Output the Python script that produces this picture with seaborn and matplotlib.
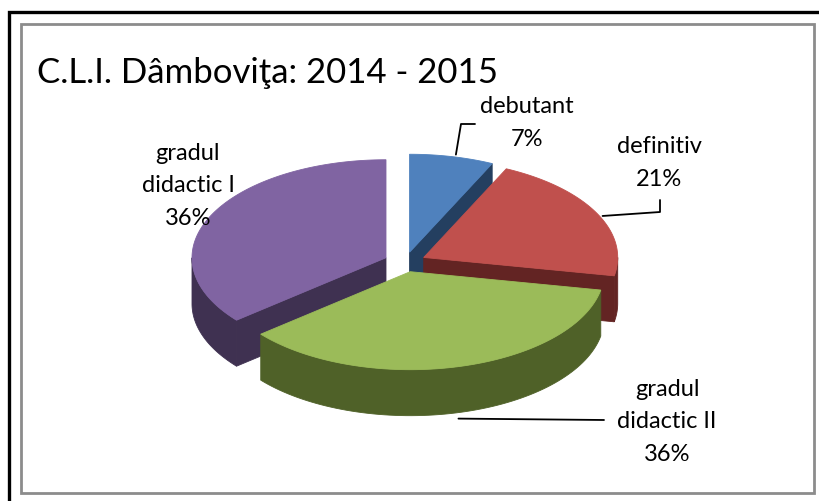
import numpy as np
import matplotlib
matplotlib.use("Agg")
import matplotlib.pyplot as plt
from matplotlib.patches import Polygon
import seaborn as sns

# data
labels = ["debutant", "definitiv", "gradul\ndidactic II", "gradul\ndidactic I"]
percent = [7, 21, 36, 36]
title = "C.L.I. Dâmboviţa: 2014 - 2015"

top_colors = ["#4F81BD", "#C0504D", "#9BBB59", "#8064A2"]
side_colors = ["#243F60", "#632423", "#4F6128", "#3F3151"]

sns.set_theme(style="white")
plt.rcParams["font.family"] = ["Lato", "DejaVu Sans"]

fig = plt.figure(figsize=(8.19, 5.01), dpi=100)
ax = fig.add_axes([0, 0, 1, 1])
ax.set_xlim(0, 819)
ax.set_ylim(501, 0)
ax.axis("off")

# frame lines (outer black, inner grey)
ax.plot([9, 9, 819], [501, 12, 12], color="black", lw=2.4, solid_joinstyle="miter")
ax.add_patch(plt.Rectangle((21, 24), 793, 469, fill=False, ec="#8c8c8c", lw=2))

# 3d pie geometry
cx, cy = 405, 262
rx, ry = 194, 98
depth = 46
ex, ey = 21, 10

vals = np.array(percent, dtype=float)
edges = np.concatenate([[0], np.cumsum(vals) / vals.sum() * 2 * np.pi])


def point(t, ox, oy, dz=0.0):
    return ox + rx * np.sin(t), oy - ry * np.cos(t) + dz


slices = []
for i in range(len(vals)):
    t1, t2 = edges[i], edges[i + 1]
    mid = (t1 + t2) / 2
    ox = cx + ex * np.sin(mid)
    oy = cy - ey * np.cos(mid)
    slices.append((i, t1, t2, mid, ox, oy))

# back to front
order = sorted(slices, key=lambda s: -np.cos(s[3]))

for i, t1, t2, mid, ox, oy in order:
    top, side = top_colors[i], side_colors[i]
    kw = dict(closed=True, lw=0.6)
    # radial faces
    for t, vis in ((t1, np.sin(t1) < -1e-6), (t2, np.sin(t2) > 1e-6)):
        if vis:
            px, py = point(t, ox, oy)
            poly = [(ox, oy), (px, py), (px, py + depth), (ox, oy + depth)]
            ax.add_patch(Polygon(poly, fc=side, ec=side, **kw))
    # outer wall, front half only
    a = max(t1, np.pi / 2)
    b = min(t2, 3 * np.pi / 2)
    if b > a:
        ts = np.linspace(a, b, 80)
        xs, ys = point(ts, ox, oy)
        poly = list(zip(xs, ys)) + list(zip(xs[::-1], ys[::-1] + depth))
        ax.add_patch(Polygon(poly, fc=side, ec=side, **kw))
    # top face
    ts = np.linspace(t1, t2, 120)
    xs, ys = point(ts, ox, oy)
    poly = [(ox, oy)] + list(zip(xs, ys))
    ax.add_patch(Polygon(poly, fc=top, ec=top, **kw))

# labels
lab_pos = [(527, 123), (659, 163), (667, 422), (188, 186)]
lab_fs = 17
for (i, t1, t2, mid, ox, oy), (lx, ly) in zip(slices, lab_pos):
    txt = f"{labels[i]}\n{percent[i]}%"
    ax.text(lx, ly, txt, ha="center", va="center", fontsize=lab_fs,
            linespacing=1.68, color="black")

# leader lines
def anchor(k, dz=0.0):
    i, t1, t2, mid, ox, oy = slices[k]
    return point(mid, ox, oy, dz)

x0, y0 = anchor(0)
ax.plot([x0 + 4, 461, 475], [y0 - 2, 124, 124], color="black", lw=1.3)
x1, y1 = anchor(1)
ax.plot([x1 + 6, 660, 660], [y1 + 3, 212, 200], color="black", lw=1.3)
x2, y2 = anchor(2, depth)
ax.plot([x2, 604], [y2 + 6, 420], color="black", lw=1.3)

ax.text(37, 73, title, ha="left", va="center", fontsize=25, color="black")

fig.savefig("out.png", dpi=100)
